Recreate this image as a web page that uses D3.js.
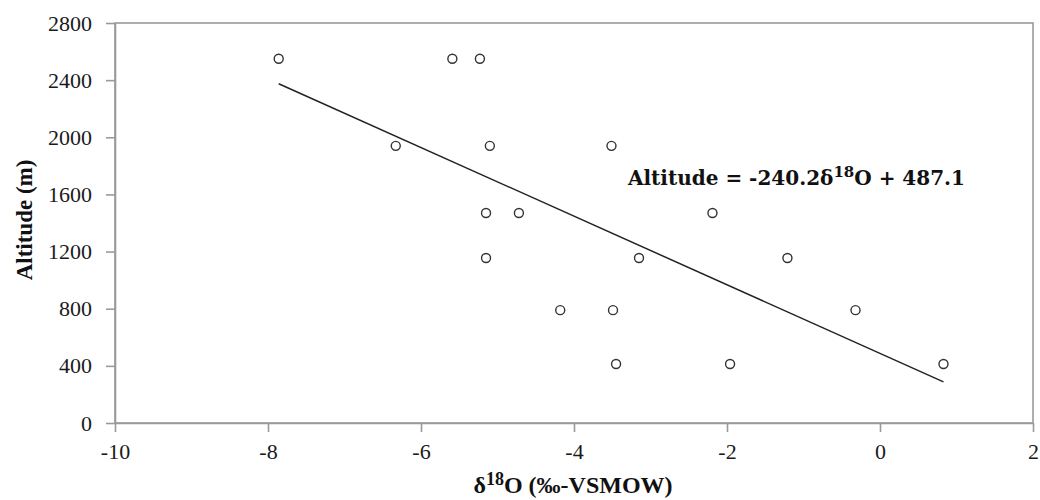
<!DOCTYPE html>
<html>
<head>
<meta charset="utf-8">
<script src="https://cdn.jsdelivr.net/npm/d3@7"></script>
<style>
  html, body { margin: 0; padding: 0; background: #fff; }
  svg { display: block; }
</style>
</head>
<body>
<svg id="chart" width="1040" height="500"></svg>
<script>
// ---- data ----
const delta18O = [-7.86, -5.59, -5.23, -6.33, -5.10, -3.51, -5.15, -4.72, -2.19,
                  -5.15, -3.15, -1.21, -4.18, -3.49, -0.32, -3.45, -1.96, 0.83];
const altitude = [2550, 2550, 2550, 1940, 1940, 1940, 1470, 1470, 1470,
                  1155, 1155, 1155, 790, 790, 790, 413, 413, 413];
const xTicks = [-10, -8, -6, -4, -2, 0, 2];
const yTicks = [0, 400, 800, 1200, 1600, 2000, 2400, 2800];
const slope = -240.2, intercept = 487.1;

const svg = d3.select("#chart");
const mLeft = 115, mRight = 1033, mTop = 23, mBottom = 423;

const x = d3.scaleLinear().domain([-10, 2]).range([mLeft, mRight]);
const y = d3.scaleLinear().domain([0, 2800]).range([mBottom, mTop]);

const axisColor = "#9a9a9a";
const tickFont = "'Liberation Serif', 'Times New Roman', serif";

// plot border
svg.append("rect")
  .attr("x", mLeft).attr("y", mTop)
  .attr("width", mRight - mLeft).attr("height", mBottom - mTop)
  .attr("fill", "none").attr("stroke", axisColor).attr("stroke-width", 1.6);

// x axis
const gx = svg.append("g").attr("transform", `translate(0,${mBottom})`)
  .call(d3.axisBottom(x).tickValues(xTicks).tickFormat(d => String(d))
    .tickSize(9).tickPadding(11).tickSizeOuter(0));
gx.select(".domain").attr("stroke", axisColor).attr("stroke-width", 1.6);
gx.selectAll(".tick line").attr("stroke", axisColor).attr("stroke-width", 1.6);
gx.selectAll(".tick text").attr("fill", "#1a1a1a")
  .style("font-family", tickFont).style("font-size", "22px");

// y axis
const gy = svg.append("g").attr("transform", `translate(${mLeft},0)`)
  .call(d3.axisLeft(y).tickValues(yTicks).tickFormat(d => String(d))
    .tickSize(9).tickPadding(14).tickSizeOuter(0));
gy.select(".domain").attr("stroke", axisColor).attr("stroke-width", 1.6);
gy.selectAll(".tick line").attr("stroke", axisColor).attr("stroke-width", 1.6);
gy.selectAll(".tick text").attr("fill", "#1a1a1a")
  .style("font-family", tickFont).style("font-size", "22px");

// regression line
const xMin = d3.min(delta18O), xMax = d3.max(delta18O);
svg.append("line")
  .attr("x1", x(xMin)).attr("y1", y(slope * xMin + intercept))
  .attr("x2", x(xMax)).attr("y2", y(slope * xMax + intercept))
  .attr("stroke", "#222").attr("stroke-width", 1.5);

// points
svg.append("g").selectAll("circle")
  .data(delta18O.map((d, i) => ({ x: d, y: altitude[i] })))
  .join("circle")
  .attr("cx", d => x(d.x)).attr("cy", d => y(d.y))
  .attr("r", 4.5)
  .attr("fill", "#fff").attr("stroke", "#333").attr("stroke-width", 1.4);

// equation
const eq = svg.append("text")
  .attr("x", 628).attr("y", 185)
  .style("font-family", "'DejaVu Serif', serif")
  .style("font-weight", "bold").style("font-size", "20px").attr("fill", "#111");
eq.append("tspan").text("Altitude = -240.2δ");
eq.append("tspan").attr("dy", -8).style("font-size", "15px").text("18");
eq.append("tspan").attr("dy", 8).text("O + 487.1");

// y title
svg.append("text")
  .attr("transform", `translate(32,220) rotate(-90)`)
  .attr("text-anchor", "middle")
  .style("font-family", tickFont).style("font-weight", "bold").style("font-size", "23px")
  .attr("fill", "#111")
  .text("Altitude (m)");

// x title
const xt = svg.append("text")
  .attr("x", 573).attr("y", 493)
  .attr("text-anchor", "middle")
  .style("font-family", tickFont).style("font-weight", "bold").style("font-size", "24px")
  .attr("fill", "#111");
xt.append("tspan").text("δ");
xt.append("tspan").attr("dy", -8).style("font-size", "18px").text("18");
xt.append("tspan").attr("dy", 8).text("O (‰-VSMOW)");
</script>
</body>
</html>
